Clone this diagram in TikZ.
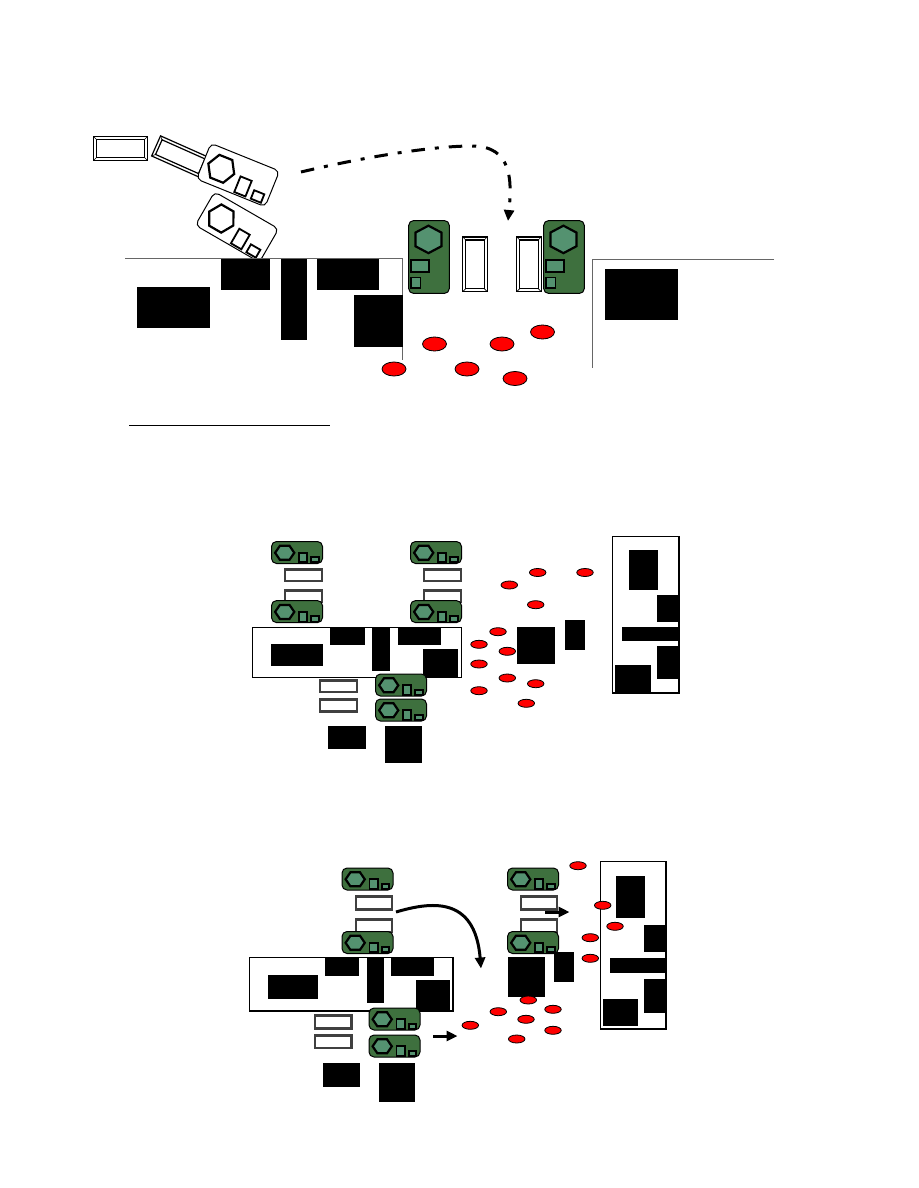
\documentclass[tikz,border=0pt]{standalone}
\usetikzlibrary{arrows.meta,shapes.geometric}
\definecolor{machgreen}{RGB}{62,112,62}
\definecolor{hexgreen}{RGB}{84,146,112}
\tikzset{
  blk/.style={fill=black,draw=none},
  bevelbox/.style={draw=black,line width=1.2pt,fill=white},
  slimbox/.style={draw=black!75,line width=2.4pt,fill=white},
  bigspot/.style={ellipse,draw=black,fill=red,line width=.8pt,inner sep=0pt,minimum width=24pt,minimum height=14pt},
  redspot/.style={ellipse,draw=black,fill=red,line width=.8pt,inner sep=0pt,minimum width=16.5pt,minimum height=8pt},
  wall/.style={draw=black!60,line width=1pt},
  panel/.style={draw=black,line width=1.4pt,fill=none},
  flow/.style={draw=black,line width=3pt,-{Triangle[length=11pt,width=10pt]}}
}
% Machine body in local units, centred on the origin: rounded hull, hexagon, two bays
\newcommand{\machine}[6]{%
  \begin{scope}[shift={(#1,#2)},rotate=#3,xscale=#4,yscale=#5]
    \ifnum#6=1\def\hullcol{machgreen}\def\partcol{hexgreen}\else\def\hullcol{white}\def\partcol{white}\fi
    \draw[fill=\hullcol,draw=black,line width=1pt,rounded corners=5pt] (-25.5,-11) rectangle (25.5,11);
    \draw[fill=\partcol,draw=black,line width=2.2pt,line join=miter]
      (-21.9,.3) -- (-17.1,-6.7) -- (-7.5,-6.7) -- (-2.7,.3) -- (-7.5,7.3) -- (-17.1,7.3) -- cycle;
    \draw[fill=\partcol,draw=black,line width=1.8pt] (2,.2) rectangle (10.3,9.8);
    \draw[fill=\partcol,draw=black,line width=1.8pt] (14.3,4.6) rectangle (21.8,9.8);
  \end{scope}}
% Double-walled tray with mitred corners; centre, size, rotation
\newcommand{\tray}[5]{%
  \begin{scope}[shift={(#1,#2)},rotate=#5]
    \draw[bevelbox] (-#3/2,-#4/2) rectangle (#3/2,#4/2);
    \draw[bevelbox] (-#3/2+3,-#4/2+3) rectangle (#3/2-3,#4/2-3);
    \draw[line width=.6pt] (-#3/2,-#4/2) -- ++(3,3) (#3/2,-#4/2) -- ++(-3,3)
      (-#3/2,#4/2) -- ++(3,-3) (#3/2,#4/2) -- ++(-3,-3);
  \end{scope}}
\newcommand{\blockat}[4]{\fill[blk] (#1,#2) rectangle (#3,#4);}
\newcommand{\slim}[4]{\draw[slimbox] (#1,#2) rectangle (#3,#4);}
\begin{document}
\begin{tikzpicture}[x=1pt,y=-1pt]
\useasboundingbox (0,0) rectangle (918,1188);
\fill[white] (0,0) rectangle (918,1188);

% --- upper layout ---
\tray{120.5}{148.5}{54}{24}{0}
\tray{180.3}{156.7}{53}{22}{-24}
\machine{238}{175}{-22}{1.45}{1.75}{0}
\machine{237}{227}{-30}{1.45}{1.75}{0}
\machine{429}{257}{-90}{1.43}{1.85}{1}
\machine{564}{257}{-90}{1.43}{1.85}{1}
\tray{475}{264.3}{24.3}{54.5}{0}
\tray{529}{264.3}{24.3}{54.5}{0}

\draw[wall] (125,258.5) -- (402.5,258.5) -- (402.5,360);
\draw[wall] (774,259.5) -- (592.5,259.5) -- (592.5,368);
\blockat{221}{259}{270}{290}
\blockat{281}{259}{307}{340}
\blockat{317}{259}{379}{290}
\blockat{137}{287}{210}{328}
\blockat{354}{295}{403}{347}
\blockat{605}{269}{678}{320}

\node[bigspot] (a1) at (434.5,344) {};
\node[bigspot] (a2) at (502,344) {};
\node[bigspot] (a3) at (542.5,332) {};
\node[bigspot] (a4) at (394,369) {};
\node[bigspot] (a5) at (467,369) {};
\node[bigspot] (a6) at (515,378.5) {};

\coordinate (swingA) at (301,172);
\coordinate (swingM) at (472,146);
\coordinate (swingB) at (508,221);
\draw[line width=3pt,dash pattern=on 13.5pt off 10pt on 4pt off 10pt,-{Triangle[length=11pt,width=10pt]}]
  (swingA) .. controls (360,158) and (430,146) .. (swingM)
  .. controls (512,146) and (512,180) .. (swingB);

\draw[draw=black,line width=1pt] (129,425.5) -- (330,425.5);

% --- middle layout ---
\machine{297}{552.5}{0}{1}{1}{1}
\machine{436}{552.5}{0}{1}{1}{1}
\slim{285}{569.5}{322}{581}
\slim{424}{569.5}{461}{581}
\slim{285}{590.5}{322}{602}
\slim{424}{590.5}{461}{602}
\machine{297}{611.6}{0}{1}{1}{1}
\machine{436}{611.6}{0}{1}{1}{1}
\blockat{330}{627}{365}{645}
\blockat{271}{644}{323}{666}
\blockat{372}{627}{390}{671}
\blockat{398}{627}{441}{645}
\blockat{423}{649}{458}{678}
\draw[panel] (252.5,627.5) rectangle (461.5,677.5);
\slim{320}{680.5}{357}{692}
\slim{320}{699.5}{357}{711.5}
\machine{401}{685}{0}{1}{1}{1}
\machine{401}{710}{0}{1}{1}{1}
\blockat{328}{726}{366}{749}
\blockat{385}{726}{422}{763}

\blockat{517}{627}{555}{664}
\blockat{565}{620}{585}{650}
\blockat{629}{550}{658}{590}
\blockat{657}{595}{679}{622}
\blockat{622}{627}{679}{641}
\blockat{657}{646}{679}{679}
\blockat{615}{665}{651}{692}
\draw[panel] (612.5,536.5) rectangle (679,693);

\node[redspot] (b1) at (537.7,572.5) {};
\node[redspot] (b2) at (585,572.5) {};
\node[redspot] (b3) at (509.3,585) {};
\node[redspot] (b4) at (535.7,604.7) {};
\node[redspot] (b5) at (498,631.7) {};
\node[redspot] (b6) at (479,644.3) {};
\node[redspot] (b7) at (507.3,651.3) {};
\node[redspot] (b8) at (479,664) {};
\node[redspot] (b9) at (507.3,678) {};
\node[redspot] (b10) at (535.7,683.7) {};
\node[redspot] (b11) at (479,690.7) {};
\node[redspot] (b12) at (526.3,703.3) {};

% --- lower layout ---
\machine{367.5}{879}{0}{1}{1}{1}
\machine{533}{879}{0}{1}{1}{1}
\slim{356}{896.5}{392}{909.5}
\slim{521}{896.5}{557}{909.5}
\slim{356}{919.5}{392}{932}
\slim{521}{919.5}{557}{932}
\machine{367.5}{942.5}{0}{1}{1}{1}
\machine{533}{942.5}{0}{1}{1}{1}
\blockat{325}{958}{359}{976}
\blockat{268}{975}{318}{999}
\blockat{367}{958}{384}{1003}
\blockat{391}{958}{434}{976}
\blockat{416}{980}{450}{1010}
\draw[panel] (249.5,957.5) rectangle (453,1011);
\slim{315}{1015.5}{351.5}{1028.5}
\slim{315}{1035.5}{351.5}{1048}
\machine{394.5}{1019}{0}{1}{1}{1}
\machine{394.5}{1046}{0}{1}{1}{1}
\blockat{323}{1063}{360}{1087}
\blockat{379}{1063}{415}{1102}

\blockat{508}{957}{545}{997}
\blockat{554}{952}{574}{982}
\blockat{616}{876}{645}{918}
\blockat{644}{925}{666}{952}
\blockat{610}{958}{666}{973}
\blockat{644}{979}{666}{1013}
\blockat{603}{999}{638}{1026}
\draw[panel] (600.5,861.5) rectangle (666,1029);

\node[redspot] (c1) at (578,865.7) {};
\node[redspot] (c2) at (602.7,905.3) {};
\node[redspot] (c3) at (615,926.3) {};
\node[redspot] (c4) at (590.3,937.7) {};
\node[redspot] (c5) at (590.3,958.3) {};
\node[redspot] (c6) at (528.3,1000) {};
\node[redspot] (c7) at (498.3,1011.7) {};
\node[redspot] (c8) at (553,1009.3) {};
\node[redspot] (c9) at (526,1019.3) {};
\node[redspot] (c10) at (470.3,1025.3) {};
\node[redspot] (c11) at (553,1030.3) {};
\node[redspot] (c12) at (516.7,1039) {};

\coordinate (pushA) at (545,912);
\coordinate (pushAend) at (569.5,912);
\coordinate (pushB) at (433,1036);
\coordinate (pushBend) at (457.5,1036);
\coordinate (sweepA) at (396,912);
\coordinate (sweepB) at (481,968.5);
\draw[flow] (pushA) -- (pushAend);
\draw[flow] (pushB) -- (pushBend);
\draw[flow] (sweepA) .. controls (430,902) and (475,895) .. (sweepB);
\end{tikzpicture}
\end{document}
